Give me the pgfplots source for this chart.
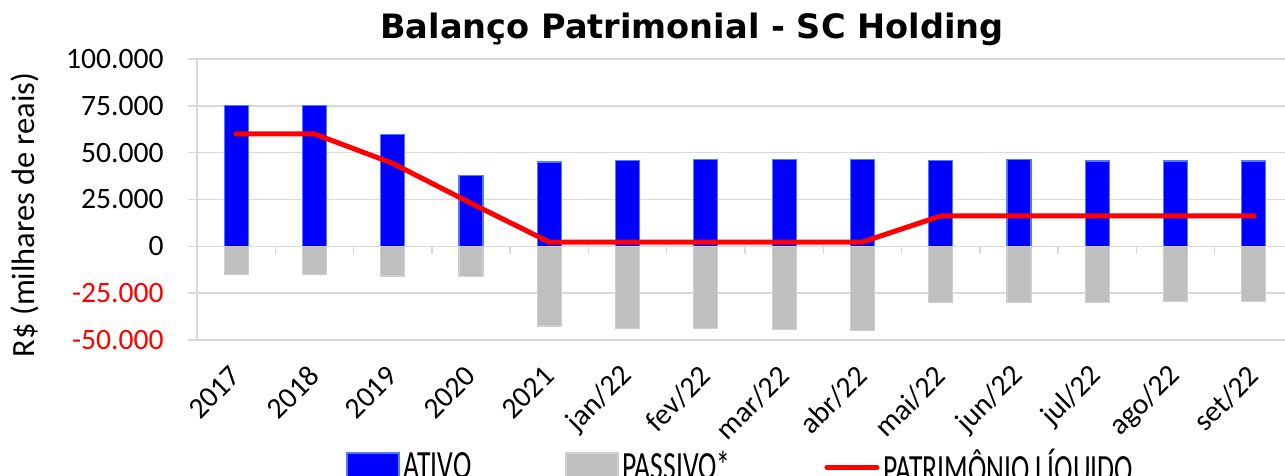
\documentclass[border=0pt]{standalone}
\usepackage{fontspec}
\setmainfont{Carlito}
\newfontfamily\titlefont{DejaVu Sans}
\usepackage{pgfplots}
\pgfplotsset{compat=1.18}
\definecolor{ativo}{HTML}{0000FF}
\definecolor{ativoedge}{HTML}{4D7CFF}
\definecolor{passivo}{HTML}{BFBFBF}
\definecolor{passivoedge}{HTML}{CFCFCF}
\definecolor{gridgray}{HTML}{D9D9D9}
\pgfplotsset{
  barlegend/.style={legend image code/.code={\draw[##1] (0pt,-8pt) rectangle (26pt,7pt);}},
  linelegend/.style={legend image code/.code={\draw[##1] (0pt,0pt) -- (25pt,0pt);}},
}

\begin{document}
\begin{tikzpicture}
\useasboundingbox (-98.5pt,-68pt) rectangle (544pt,170pt);
\begin{axis}[
  at={(0pt,0pt)}, anchor=south west,
  scale only axis, width=548pt, height=140.5pt,
  xmin=-0.5, xmax=13.5, ymin=-50000, ymax=100000,
  ybar,
  separate axis lines,
  x axis line style={draw=none},
  y axis line style={gridgray, line width=0.75pt},
  scaled y ticks=false,
  ytick={-50000,-25000,0,25000,50000,75000,100000},
  yticklabels={{\color{red}-50.000},{\color{red}-25.000},0,25.000,50.000,75.000,100.000},
  ymajorgrids, grid style={gridgray, line width=0.75pt},
  tick align=outside, major tick length=4.5pt,
  ytick pos=left, xtick pos=bottom,
  ytick style={gridgray, line width=0.75pt},
  xtick style={draw=none},
  xtick={0,...,13},
  xticklabels={2017,2018,2019,2020,2021,jan/22,fev/22,mar/22,abr/22,mai/22,jun/22,jul/22,ago/22,set/22},
  yticklabel style={font=\fontsize{14.8}{16}\selectfont, anchor=east, inner sep=0pt, xshift=-12pt},
  xticklabel style={font=\fontsize{14.8}{16}\selectfont, rotate=45, anchor=east, inner sep=0pt},
  xticklabel shift=11pt,
  every axis title shift=0pt,
  title={Balanço Patrimonial - SC Holding},
  title style={at={(axis description cs:0.4516,1.0712)}, anchor=base, font=\titlefont\bfseries\fontsize{16.8}{18}\selectfont},
  ylabel={R\$ (milhares de reais)},
  every axis y label/.style={at={(axis description cs:-0.157,0.445)}, rotate=90, anchor=center, font=\fontsize{16.2}{18}\selectfont},
  legend columns=3,
  legend style={draw=none, fill=none, at={(0.497,-0.452)}, anchor=center,
    font=\fontsize{13.8}{15}\selectfont,
    /tikz/every even column/.append style={column sep=45pt}},
]
\addplot[bar width=12pt, bar shift=0pt, fill=ativo, draw=ativoedge, line width=0.6pt, barlegend]
  coordinates {(0,75100) (1,75100) (2,59800) (3,38000) (4,45000) (5,45900) (6,46200)
    (7,46200) (8,46500) (9,45900) (10,46400) (11,45500) (12,45500) (13,45500)};
\addlegendentry{\scalebox{1}[1.45]{ATIVO}}
\addplot[bar width=12pt, bar shift=0pt, fill=passivo, draw=passivoedge, line width=0.6pt, barlegend]
  coordinates {(0,-15200) (1,-15200) (2,-15800) (3,-15900) (4,-42500) (5,-43700) (6,-44000)
    (7,-44200) (8,-44800) (9,-29800) (10,-30100) (11,-29800) (12,-29400) (13,-29400)};
\addlegendentry{\scalebox{1}[1.45]{PASSIVO*}}
\addplot[sharp plot, red, line width=2.5pt, line cap=round, line join=round, linelegend]
  coordinates {(0,60000) (1,60000) (2,44300) (3,23000) (4,2300) (5,2300) (6,2300)
    (7,2300) (8,2300) (9,16200) (10,16200) (11,16200) (12,16200) (13,16200)};
\addlegendentry{\scalebox{1}[1.45]{PATRIMÔNIO LÍQUIDO}}
\pgfplotsinvokeforeach{0,...,12}{
  \draw[gridgray, line width=0.75pt] (axis cs:#1.5,0) -- ++(0pt,-4pt);
}
\end{axis}
\end{tikzpicture}
\end{document}
